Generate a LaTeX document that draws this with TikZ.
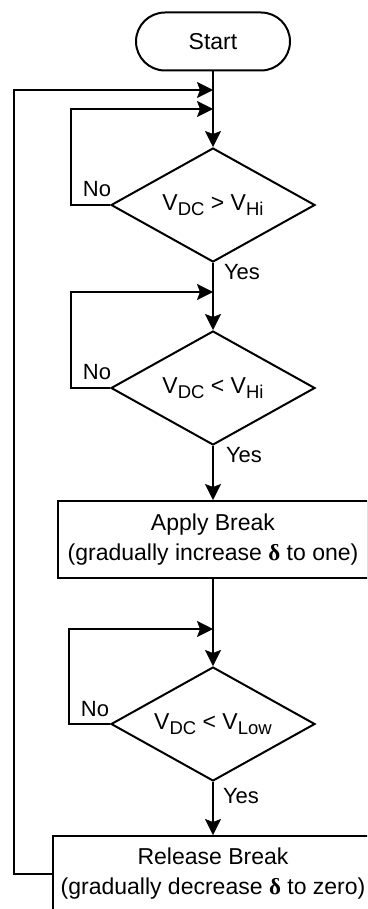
\documentclass[tikz,border=0pt]{standalone}
\usepackage{fontspec}
\setmainfont{Liberation Sans}
\newfontfamily\grk{Liberation Serif}
\usetikzlibrary{shapes.geometric,arrows.meta}
\newcommand{\dlt}{{\grk\bfseries δ}}
\newcommand{\subs}[1]{\raisebox{-5.5pt}{\fontsize{18.5}{20}\selectfont #1}}
\begin{document}
\begin{tikzpicture}[x=1pt,y=-1pt,line width=2pt,
  txt/.style={font=\fontsize{23}{30}\selectfont},
  lbl/.style={font=\fontsize{22}{26}\selectfont,inner sep=0pt},
  term/.style={txt,draw,rounded corners=29pt,minimum width=154pt,minimum height=58pt,inner sep=0pt},
  dec/.style={txt,draw,diamond,aspect=2,minimum width=204pt,minimum height=114pt,inner sep=0pt},
  proc/.style={txt,draw,rectangle,align=center,inner sep=0pt},
  arr/.style={-{Stealth[length=16pt,width=16pt,inset=3pt,line width=0.5pt]}}]
\useasboundingbox (0,0) rectangle (367,909);
\clip (0,0) rectangle (367,909);
\node[term] (start) at (213,41.5) {Start};
\node[dec] (d1) at (213,205) {V\subs{DC} > V\subs{Hi}};
\node[dec] (d2) at (213,388) {V\subs{DC} < V\subs{Hi}};
\node[proc,minimum width=310pt,minimum height=77pt] (apply) at (213,539.5) {Apply Break\\(gradually increase \dlt{} to one)};
\node[dec] (d3) at (213,724) {V\subs{DC} < V\subs{Low}};
\node[proc,minimum width=320pt,minimum height=76pt] (release) at (213,874) {Release Break\\(gradually decrease \dlt{} to zero)};
\coordinate (j1) at (213,90);
\coordinate (j2) at (213,109);
\coordinate (j3) at (213,292);
\coordinate (j4) at (213,629);
\coordinate (o1) at (14,90);
\coordinate (l1) at (71,109);
\coordinate (l2) at (71,292);
\coordinate (l3) at (69,629);
\draw[arr] (start.south) -- (d1.north);
\draw[arr] (d1.west) -| (l1) -- (j2);
\draw[arr] (release.west) -| (o1) -- (j1);
\draw[arr] (d1.south) -- (d2.north);
\draw[arr] (d2.west) -| (l2) -- (j3);
\draw[arr] (d2.south) -- (apply.north);
\draw[arr] (apply.south) -- (d3.north);
\draw[arr] (d3.west) -| (l3) -- (j4);
\draw[arr] (d3.south) -- (release.north);
\node[lbl] (n1) at (97,189) {No};
\node[lbl] (n2) at (97,372) {No};
\node[lbl] (n3) at (95,709) {No};
\node[lbl] (y1) at (242,272) {Yes};
\node[lbl] (y2) at (244,455) {Yes};
\node[lbl] (y3) at (241,796) {Yes};
\end{tikzpicture}
\end{document}
